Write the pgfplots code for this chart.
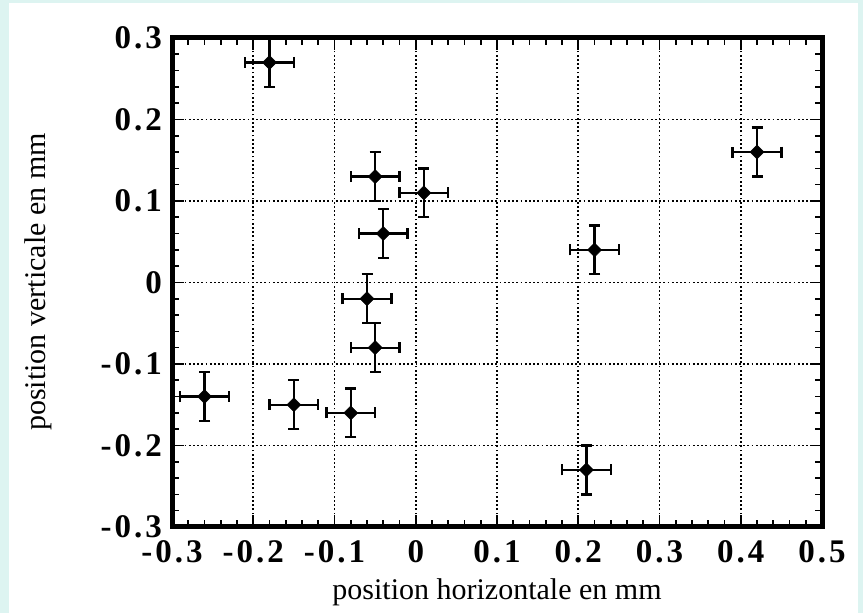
\documentclass[border=0pt]{standalone}
\usepackage{pgfplots}
\pgfplotsset{compat=1.18}
\usepackage{fontspec}
\setmainfont{Liberation Serif}
\newfontfamily\tickfont[LetterSpace=9]{Liberation Serif}
\definecolor{bgcyan}{RGB}{221,244,241}
\begin{document}
\begin{tikzpicture}[x=1bp,y=1bp]
\fill[bgcyan] (0,0) rectangle (863,613);
\fill[white] (9,0) rectangle (858,609.5);
\begin{axis}[
  at={(172bp,86bp)}, anchor=south west,
  scale only axis, width=650bp, height=489bp,
  xmin=-0.3, xmax=0.5, ymin=-0.3, ymax=0.3,
  xtick={-0.3,-0.2,-0.1,0,0.1,0.2,0.3,0.4,0.5},
  ytick={-0.3,-0.2,-0.1,0,0.1,0.2,0.3},
  xticklabels={-0.3,-0.2,-0.1,0,0.1,0.2,0.3,0.4,0.5},
  yticklabels={-0.3,-0.2,-0.1,0,0.1,0.2,0.3},
  minor tick num=4,
  tick align=inside,
  major tick length=12bp, minor tick length=7bp,
  every tick/.style={black, line width=1.6bp},
  axis line style={line width=5bp},
  grid=major,
  major grid style={black, line width=1.8bp, dash pattern=on 1.8bp off 2.4bp},
  xticklabel style={font=\tickfont\fontsize{33bp}{38bp}\selectfont\bfseries, anchor=base, yshift=-36bp, inner sep=0pt},
  yticklabel style={font=\tickfont\fontsize{33bp}{38bp}\selectfont\bfseries, anchor=east, xshift=-10bp, inner sep=0pt},
]
\addplot[black, only marks, mark=square*, mark options={rotate=45}, mark size=5bp,
  error bars/.cd, x dir=both, x explicit, y dir=both, y explicit,
  error bar style={line width=2.3bp, black},
  error mark options={rotate=90, mark size=5.5bp, line width=2.3bp, black}]
  table[x=x, y=y, x error=ex, y error=ey] {
x y ex ey
-0.18 0.27 0.03 0.03
0.42 0.16 0.03 0.03
-0.05 0.13 0.03 0.03
0.01 0.11 0.03 0.03
-0.04 0.06 0.03 0.03
0.22 0.04 0.03 0.03
-0.06 -0.02 0.03 0.03
-0.05 -0.08 0.03 0.03
-0.26 -0.14 0.03 0.03
-0.15 -0.15 0.03 0.03
-0.08 -0.16 0.03 0.03
0.21 -0.23 0.03 0.03
};
\end{axis}
\node[anchor=base, inner sep=0pt, font=\fontsize{30bp}{36bp}\selectfont] at (497,13) {position horizontale en mm};
\node[anchor=center, rotate=90, inner sep=0pt, font=\fontsize{30bp}{36bp}\selectfont] at (38,331) {position verticale en mm};
\end{tikzpicture}
\end{document}
